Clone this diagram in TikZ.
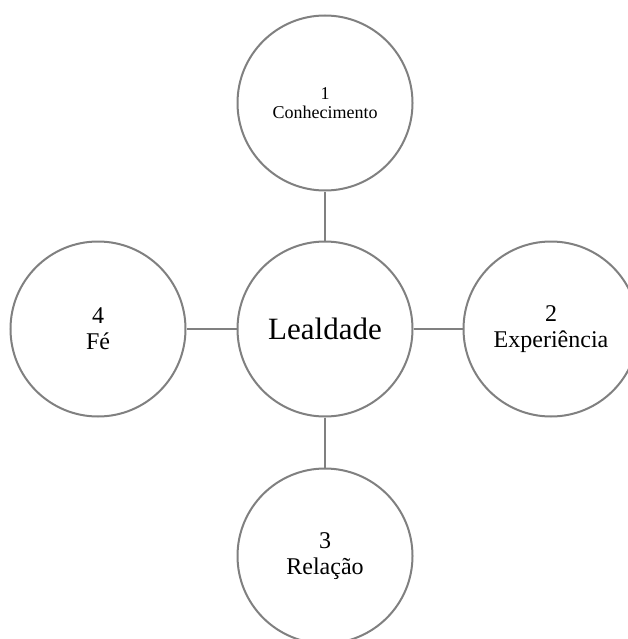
\documentclass[tikz,border=0pt]{standalone}
\usepackage{fontspec}
\setmainfont{Liberation Serif}
\definecolor{ringgray}{RGB}{128,128,128}
\tikzset{
  ring/.style={circle, draw=ringgray, line width=2pt, fill=white,
    minimum size=175pt, inner sep=0pt, align=center,
    font=\fontsize{24pt}{26pt}\selectfont},
  smalltext/.style={font=\fontsize{18pt}{19pt}\selectfont},
  bigtext/.style={font=\fontsize{31pt}{34pt}\selectfont},
  link/.style={draw=ringgray, line width=2pt}
}
\begin{document}
\begin{tikzpicture}[x=1pt,y=-1pt]
  \useasboundingbox (0,0) rectangle (628,639);
  \clip (0,0) rectangle (628,639);
  % centre and the four satellites
  \node[ring, bigtext] (hub) at (325,329) {Lealdade};
  \node[ring, smalltext] (top) at (325,103) {1\\Conhecimento};
  \node[ring] (right) at (551,329) {2\\Experiência};
  \node[ring] (bottom) at (325,556) {3\\Relação};
  \node[ring] (left) at (98,329) {4\\Fé};
  % spokes
  \draw[link] (hub) -- (top);
  \draw[link] (hub) -- (right);
  \draw[link] (hub) -- (bottom);
  \draw[link] (hub) -- (left);
\end{tikzpicture}
\end{document}
